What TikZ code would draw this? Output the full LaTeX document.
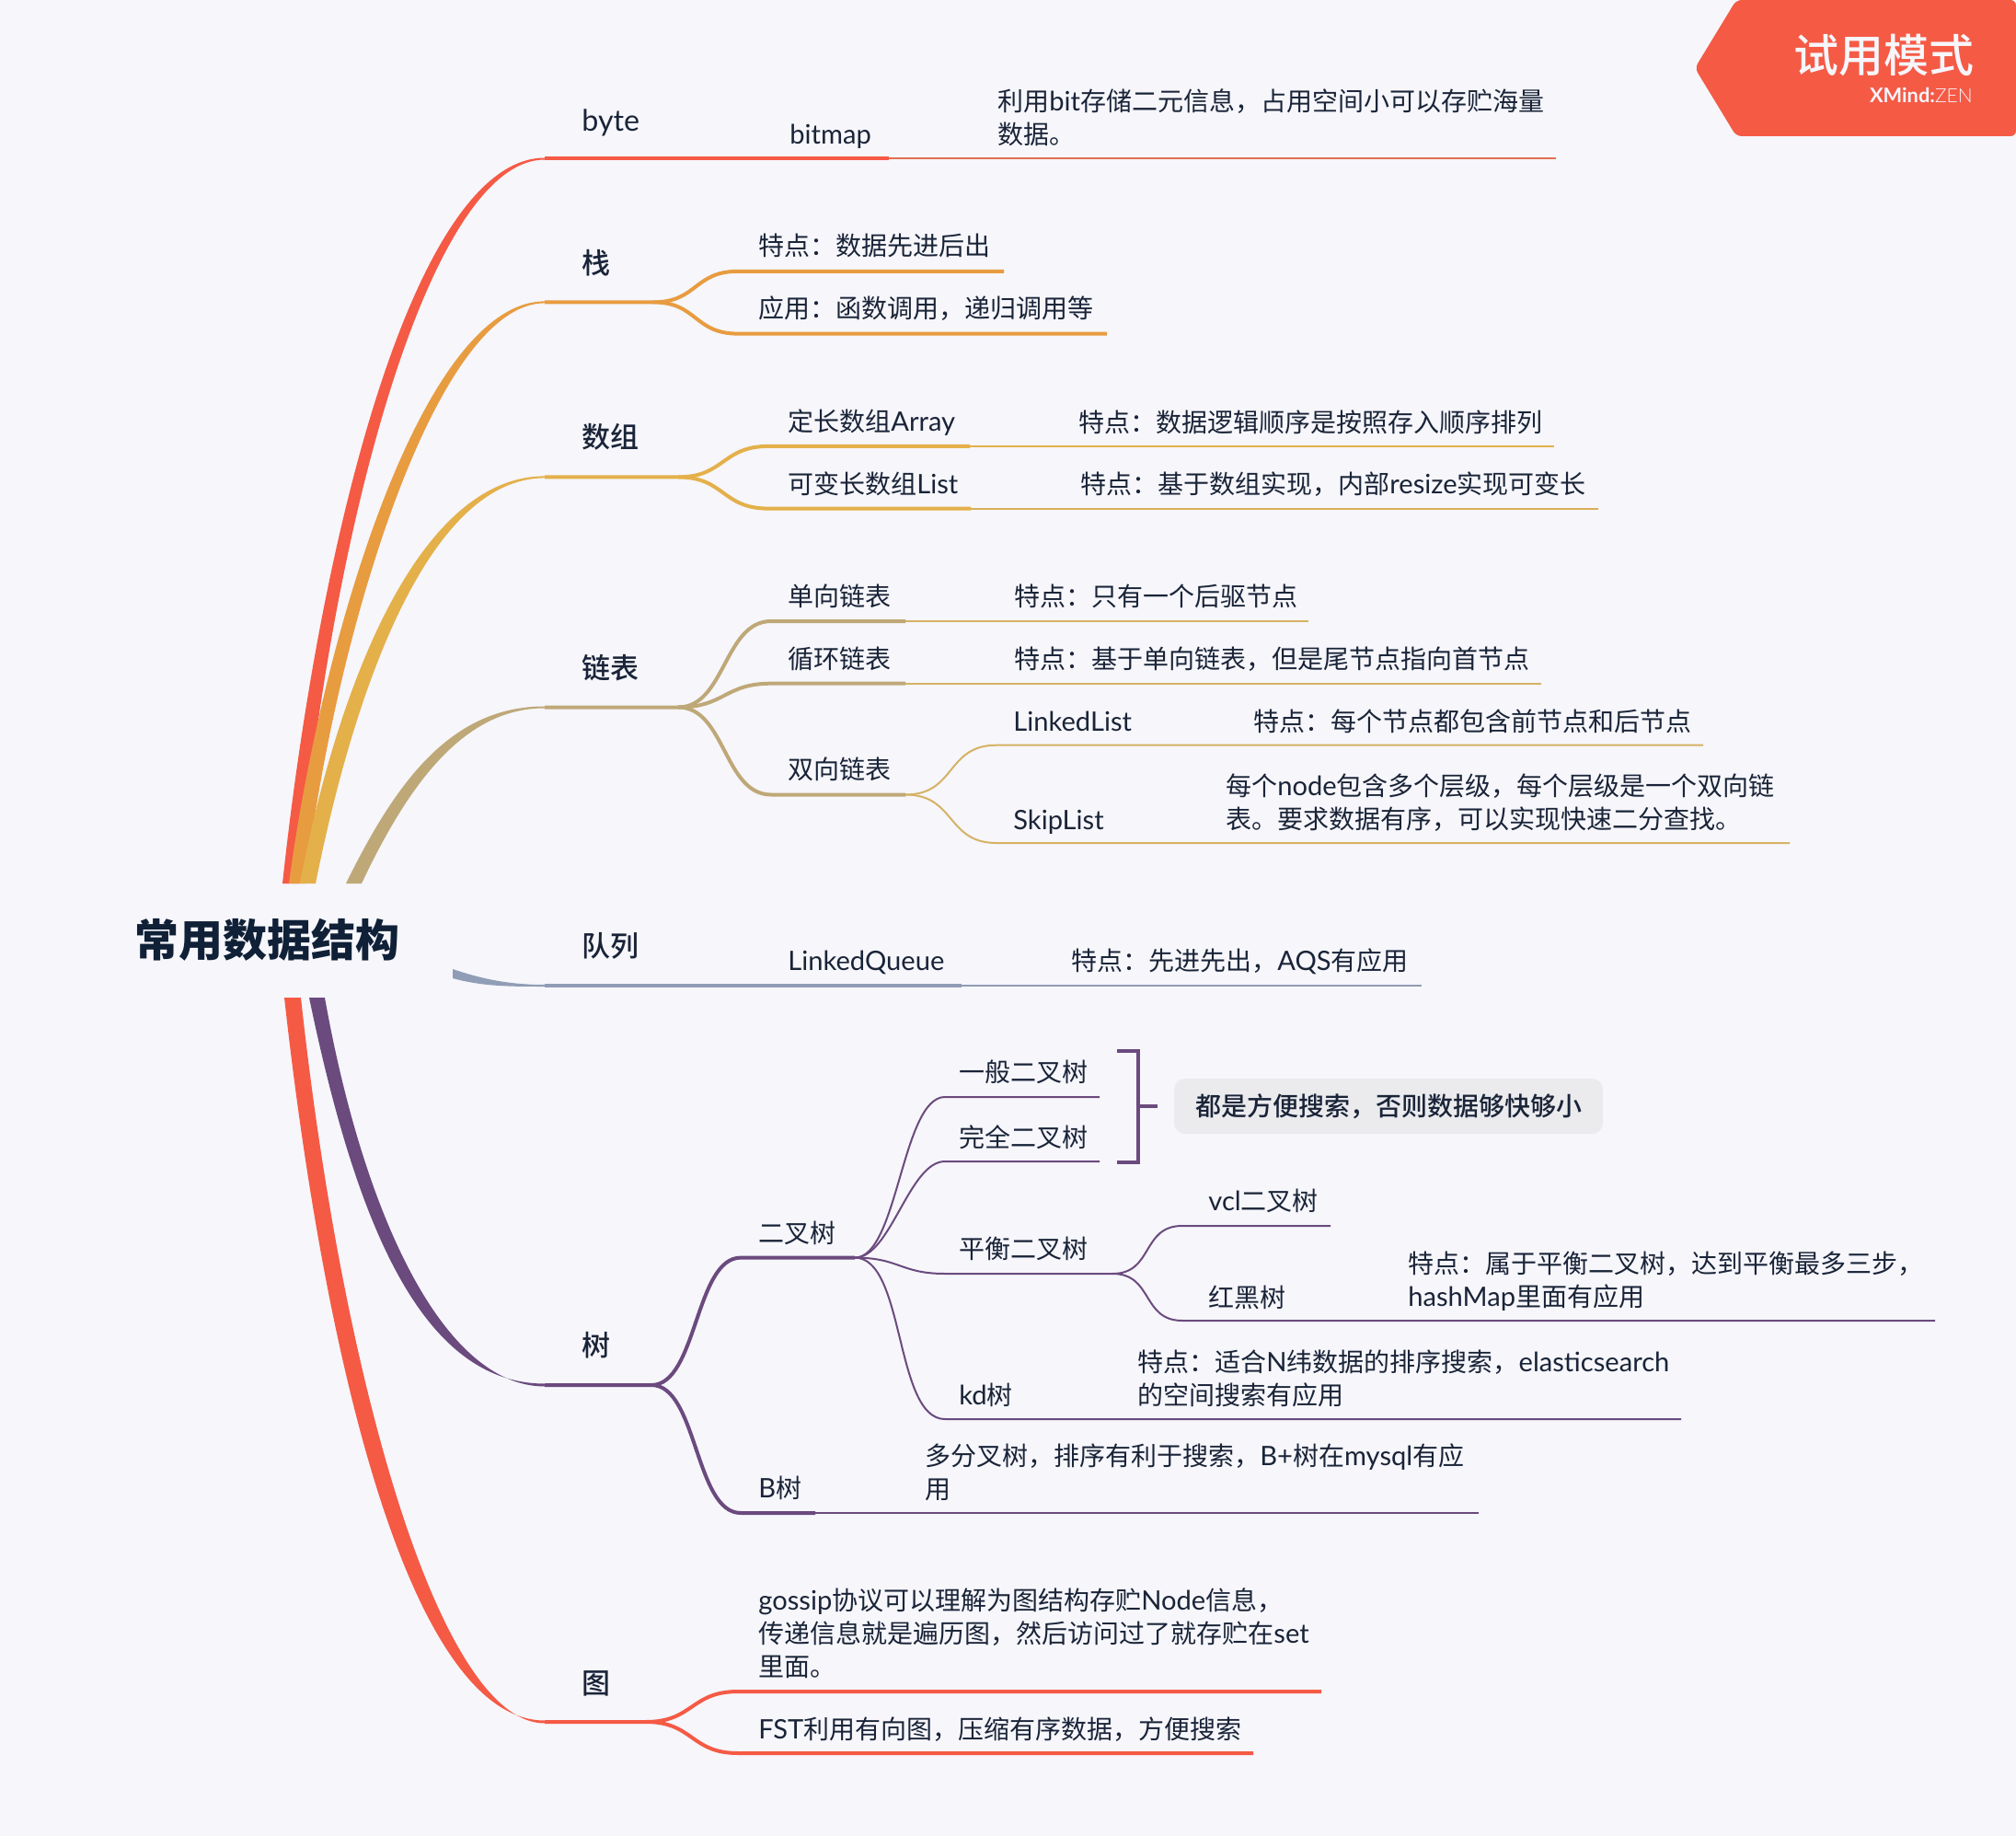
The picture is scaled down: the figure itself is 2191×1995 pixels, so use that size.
\documentclass[tikz,border=0pt]{standalone}
\usepackage{fontspec}
\setmainfont{Noto Sans CJK SC}
\newfontfamily\med{Noto Sans CJK SC Medium}
\newfontfamily\lat[Scale=1.04]{Lato}
\newfontfamily\latl{Lato Light}
\newcommand{\en}[1]{{\lat #1}}
\definecolor{bgc}{HTML}{F6F6FB}
\definecolor{ink}{HTML}{1A2438}
\definecolor{navy}{HTML}{0F2037}
\definecolor{redc}{HTML}{F55A45}
\definecolor{redt}{HTML}{E0704E}
\definecolor{orac}{HTML}{E89C40}
\definecolor{golc}{HTML}{E4B04A}
\definecolor{khac}{HTML}{BFA878}
\definecolor{khat}{HTML}{D6B264}
\definecolor{bluc}{HTML}{909DB6}
\definecolor{purc}{HTML}{6B4A7E}
\definecolor{notec}{HTML}{EBEBEE}
\tikzset{
  txt/.style={anchor=west,inner sep=0pt,align=left,text=ink,font=\fontsize{14}{18}\selectfont},
  topic/.style={anchor=west,inner sep=0pt,text=ink,font=\med\fontsize{15.5}{18}\selectfont},
  thick line/.style={line width=2pt},
  thin line/.style={line width=1pt},
  sbend/.style={out=0,in=180,looseness=#1},
  sbend/.default=1.25,
}
\begin{document}
\begin{tikzpicture}[x=0.5pt,y=-0.5pt]
\useasboundingbox (0,0) rectangle (2191,1995);
\fill[bgc] (0,0) rectangle (2191,1995);
% trunk branches
\fill[redc] (307,960) .. controls (350,560) and (455,171.5) .. (592,171.5) -- (592,173.5) .. controls (468,173.5) and (360,570) .. (325,960) -- cycle;
\fill[orac] (314,960) .. controls (350,690) and (460,327.4) .. (592,327.4) -- (592,329.4) .. controls (472,329.4) and (362,700) .. (332,960) -- cycle;
\fill[golc] (326,960) .. controls (370,730) and (460,517.4) .. (592,517.4) -- (592,519.4) .. controls (470,519.4) and (388,735) .. (343,960) -- cycle;
\fill[khac] (376,960) .. controls (430,850) and (490,767.5) .. (592,767.5) -- (592,769.5) .. controls (505,769.5) and (445,850) .. (393,960) -- cycle;
\fill[bluc] (492,1053) .. controls (530,1066) and (560,1070) .. (592,1070) -- (592,1072) .. controls (555,1072) and (525,1072) .. (492,1063) -- cycle;
\fill[purc] (336,1084) .. controls (385,1320) and (455,1503.5) .. (592,1503.5) -- (592,1506.5) .. controls (482,1506.5) and (395,1320) .. (353,1084) -- cycle;
\fill[redc] (309,1084) .. controls (355,1500) and (450,1869.5) .. (592,1869.5) -- (592,1872.5) .. controls (478,1872.5) and (372,1500) .. (327,1084) -- cycle;
% junctions
\coordinate (byteJ) at (592,172.5);
\coordinate (stackJ) at (592,328.4);
\coordinate (arrayJ) at (592,518.4);
\coordinate (listJ) at (592,768.5);
\coordinate (queueJ) at (592,1071);
\coordinate (treeJ) at (592,1505);
\coordinate (graphJ) at (592,1871);
% byte
\node[topic] (byte) at (632,133) {\en{byte}};
\node[txt] (bitmap) at (858,148) {\en{bitmap}};
\node[txt] (bitmapNote) at (1084,128) {利用\en{bit}存储二元信息，占用空间小可以存贮海量\\数据。};
\coordinate (bitmapE) at (966,172.5);
\coordinate (bitmapF) at (1691,172.5);
\draw[thick line,redc] (byteJ)--(bitmapE);
\draw[thin line,redt] (bitmapE)--(bitmapF);
% stack
\node[topic] (stack) at (632,286) {栈};
\node[txt] (stackA) at (824,267) {特点：数据先进后出};
\node[txt] (stackB) at (824,335) {应用：函数调用，递归调用等};
\coordinate (stackM) at (710,328.4);
\coordinate (stackA0) at (802,294.8);
\coordinate (stackA1) at (1091,294.8);
\coordinate (stackB0) at (802,362.6);
\coordinate (stackB1) at (1203,362.6);
\draw[thick line,orac] (stackJ)--(stackM) to[sbend] (stackA0)--(stackA1);
\draw[thick line,orac] (stackM) to[sbend] (stackB0)--(stackB1);
% array
\node[topic] (array) at (632,475) {数组};
\node[txt] (arrayA) at (856,459) {定长数组\en{Array}};
\node[txt] (arrayAN) at (1172,459) {特点：数据逻辑顺序是按照存入顺序排列};
\node[txt] (arrayB) at (856,526) {可变长数组\en{List}};
\node[txt] (arrayBN) at (1174,526) {特点：基于数组实现，内部\en{resize}实现可变长};
\coordinate (arrayM) at (737,518.4);
\coordinate (arrayA0) at (835,484.9);
\coordinate (arrayA1) at (1054,484.9);
\coordinate (arrayA2) at (1689,484.9);
\coordinate (arrayB0) at (835,552.6);
\coordinate (arrayB1) at (1055,552.6);
\coordinate (arrayB2) at (1737,552.6);
\draw[thick line,golc] (arrayJ)--(arrayM) to[sbend] (arrayA0)--(arrayA1);
\draw[thick line,golc] (arrayM) to[sbend] (arrayB0)--(arrayB1);
\draw[thin line,golc] (arrayA1)--(arrayA2);
\draw[thin line,golc!70!khac] (arrayB1)--(arrayB2);
% linked list
\node[topic] (list) at (632,726) {链表};
\node[txt] (listA) at (856,648) {单向链表};
\node[txt] (listAN) at (1102,648) {特点：只有一个后驱节点};
\node[txt] (listB) at (856,716) {循环链表};
\node[txt] (listBN) at (1102,716) {特点：基于单向链表，但是尾节点指向首节点};
\node[txt] (listC) at (856,836) {双向链表};
\node[txt] (linked) at (1101,784) {\en{LinkedList}};
\node[txt] (linkedN) at (1362,784) {特点：每个节点都包含前节点和后节点};
\node[txt] (skip) at (1101,893) {\en{SkipList}};
\node[txt] (skipN) at (1332,872) {每个\en{node}包含多个层级，每个层级是一个双向链\\表。要求数据有序，可以实现快速二分查找。};
\coordinate (listM) at (737,768.5);
\coordinate (listA0) at (838,675);
\coordinate (listA1) at (984,675);
\coordinate (listA2) at (1422,675);
\coordinate (listB0) at (838,742.7);
\coordinate (listB1) at (984,742.7);
\coordinate (listB2) at (1675,742.7);
\coordinate (listC0) at (838,863.5);
\coordinate (listC1) at (984,863.5);
\coordinate (linked0) at (1083,809.7);
\coordinate (linked1) at (1851,809.7);
\coordinate (skip0) at (1083,916);
\coordinate (skip1) at (1945,916);
\draw[thick line,khac] (listJ)--(listM) to[sbend=0.95] (listA0)--(listA1);
\draw[thick line,khac] (listM) to[sbend] (listB0)--(listB1);
\draw[thick line,khac] (listM) to[sbend=0.95] (listC0)--(listC1);
\draw[thin line,khat] (listA1)--(listA2);
\draw[thin line,khat] (listB1)--(listB2);
\draw[thin line,khat] (listC1) to[sbend] (linked0)--(linked1);
\draw[thin line,khat] (listC1) to[sbend] (skip0)--(skip1);
% queue
\node[topic] (queue) at (632,1028) {队列};
\node[txt] (lqueue) at (856,1046) {\en{LinkedQueue}};
\node[txt] (lqueueN) at (1164,1045) {特点：先进先出，\en{AQS}有应用};
\coordinate (lqueue1) at (1045,1071);
\coordinate (lqueue2) at (1545,1071);
\draw[thick line,bluc] (queueJ)--(lqueue1);
\draw[thin line,bluc] (lqueue1)--(lqueue2);
% tree
\node[topic] (tree) at (632,1462) {树};
\node[txt] (bin) at (824,1340) {二叉树};
\node[txt] (binA) at (1042,1165) {一般二叉树};
\node[txt] (binB) at (1042,1236) {完全二叉树};
\node[txt] (bal) at (1042,1357) {平衡二叉树};
\node[txt] (vcl) at (1313,1305) {\en{vcl}二叉树};
\node[txt] (rb) at (1313,1410) {红黑树};
\node[txt] (rbN) at (1530,1392) {特点：属于平衡二叉树，达到平衡最多三步，\\\en{hashMap}里面有应用};
\node[txt] (kd) at (1042,1516) {\en{kd}树};
\node[txt] (kdN) at (1236,1498) {特点：适合\en{N}纬数据的排序搜索，\en{elasticsearch}\\的空间搜索有应用};
\node[txt] (btree) at (824,1617) {\en{B}树};
\node[txt] (btreeN) at (1005,1600) {多分叉树，排序有利于搜索，\en{B+}树在\en{mysql}有应\\用};
\node[inner sep=0pt,minimum width=233pt,minimum height=30pt,rounded corners=6pt,fill=notec,text=ink,font=\med\fontsize{14}{18}\selectfont] (note) at (1509,1202) {都是方便搜索，否则数据够快够小};
\coordinate (treeM) at (708,1505);
\coordinate (bin0) at (805,1366.6);
\coordinate (bin1) at (929,1366.6);
\coordinate (binA0) at (1027,1192);
\coordinate (binA1) at (1195,1192);
\coordinate (binB0) at (1027,1262);
\coordinate (binB1) at (1195,1262);
\coordinate (bal0) at (1027,1384);
\coordinate (bal1) at (1209,1384);
\coordinate (kd0) at (1027,1542);
\coordinate (kd1) at (1827,1542);
\coordinate (vcl0) at (1285,1332);
\coordinate (vcl1) at (1446,1332);
\coordinate (rb0) at (1285,1435);
\coordinate (rb1) at (2103,1435);
\coordinate (btree0) at (805,1644);
\coordinate (btree1) at (886,1644);
\coordinate (btree2) at (1607,1644);
\draw[thick line,purc] (treeJ)--(treeM) to[sbend=0.75] (bin0)--(bin1);
\draw[thick line,purc] (treeM) to[sbend=0.75] (btree0)--(btree1);
\draw[thin line,purc] (btree1)--(btree2);
\draw[thin line,purc] (bin1) to[sbend=0.6] (binA0)--(binA1);
\draw[thin line,purc] (bin1) to[sbend=0.7] (binB0)--(binB1);
\draw[thin line,purc] (bin1) to[sbend] (bal0)--(bal1);
\draw[thin line,purc] (bin1) to[sbend=0.7] (kd0)--(kd1);
\draw[thin line,purc] (bal1) to[sbend] (vcl0)--(vcl1);
\draw[thin line,purc] (bal1) to[sbend] (rb0)--(rb1);
% summary bracket
\coordinate (brTop) at (1214,1142);
\coordinate (brBot) at (1214,1263);
\coordinate (brMid) at (1237,1202);
\coordinate (brEnd) at (1258,1202);
\draw[thick line,purc] (brTop)-|(brMid)|-(brBot);
\draw[thick line,purc] (brMid)--(brEnd);
% graph
\node[topic] (graph) at (632,1829) {图};
\node[txt] (graphA) at (824,1775) {\en{gossip}协议可以理解为图结构存贮\en{Node}信息，\\传递信息就是遍历图，然后访问过了就存贮在\en{set}\\里面。};
\node[txt] (graphB) at (824,1879) {\en{FST}利用有向图，压缩有序数据，方便搜索};
\coordinate (graphM) at (702,1871);
\coordinate (graphA0) at (802,1838);
\coordinate (graphA1) at (1436,1838);
\coordinate (graphB0) at (802,1905);
\coordinate (graphB1) at (1362,1905);
\draw[thick line,redc] (graphJ)--(graphM) to[sbend] (graphA0)--(graphA1);
\draw[thick line,redc] (graphM) to[sbend] (graphB0)--(graphB1);
% centre
\node[inner sep=0pt,anchor=west,text=navy,font=\bfseries\fontsize{24}{28}\selectfont] (root) at (146,1021) {常用数据结构};
% trial badge
\fill[redc,rounded corners=3pt] (1887,0)--(1842,74)--(1887,148)--(2191,148)--(2191,0)--cycle;
\node[anchor=center,inner sep=0pt,text=bgc,font=\med\fontsize{24.5}{28}\selectfont] (badge) at (2047,60) {试用模式};
\node[anchor=east,inner sep=0pt,text=bgc,font=\fontsize{10.5}{12}\selectfont] (badgeB) at (2144,103) {{\lat\bfseries XMind:}{\latl ZEN}};
\end{tikzpicture}
\end{document}
